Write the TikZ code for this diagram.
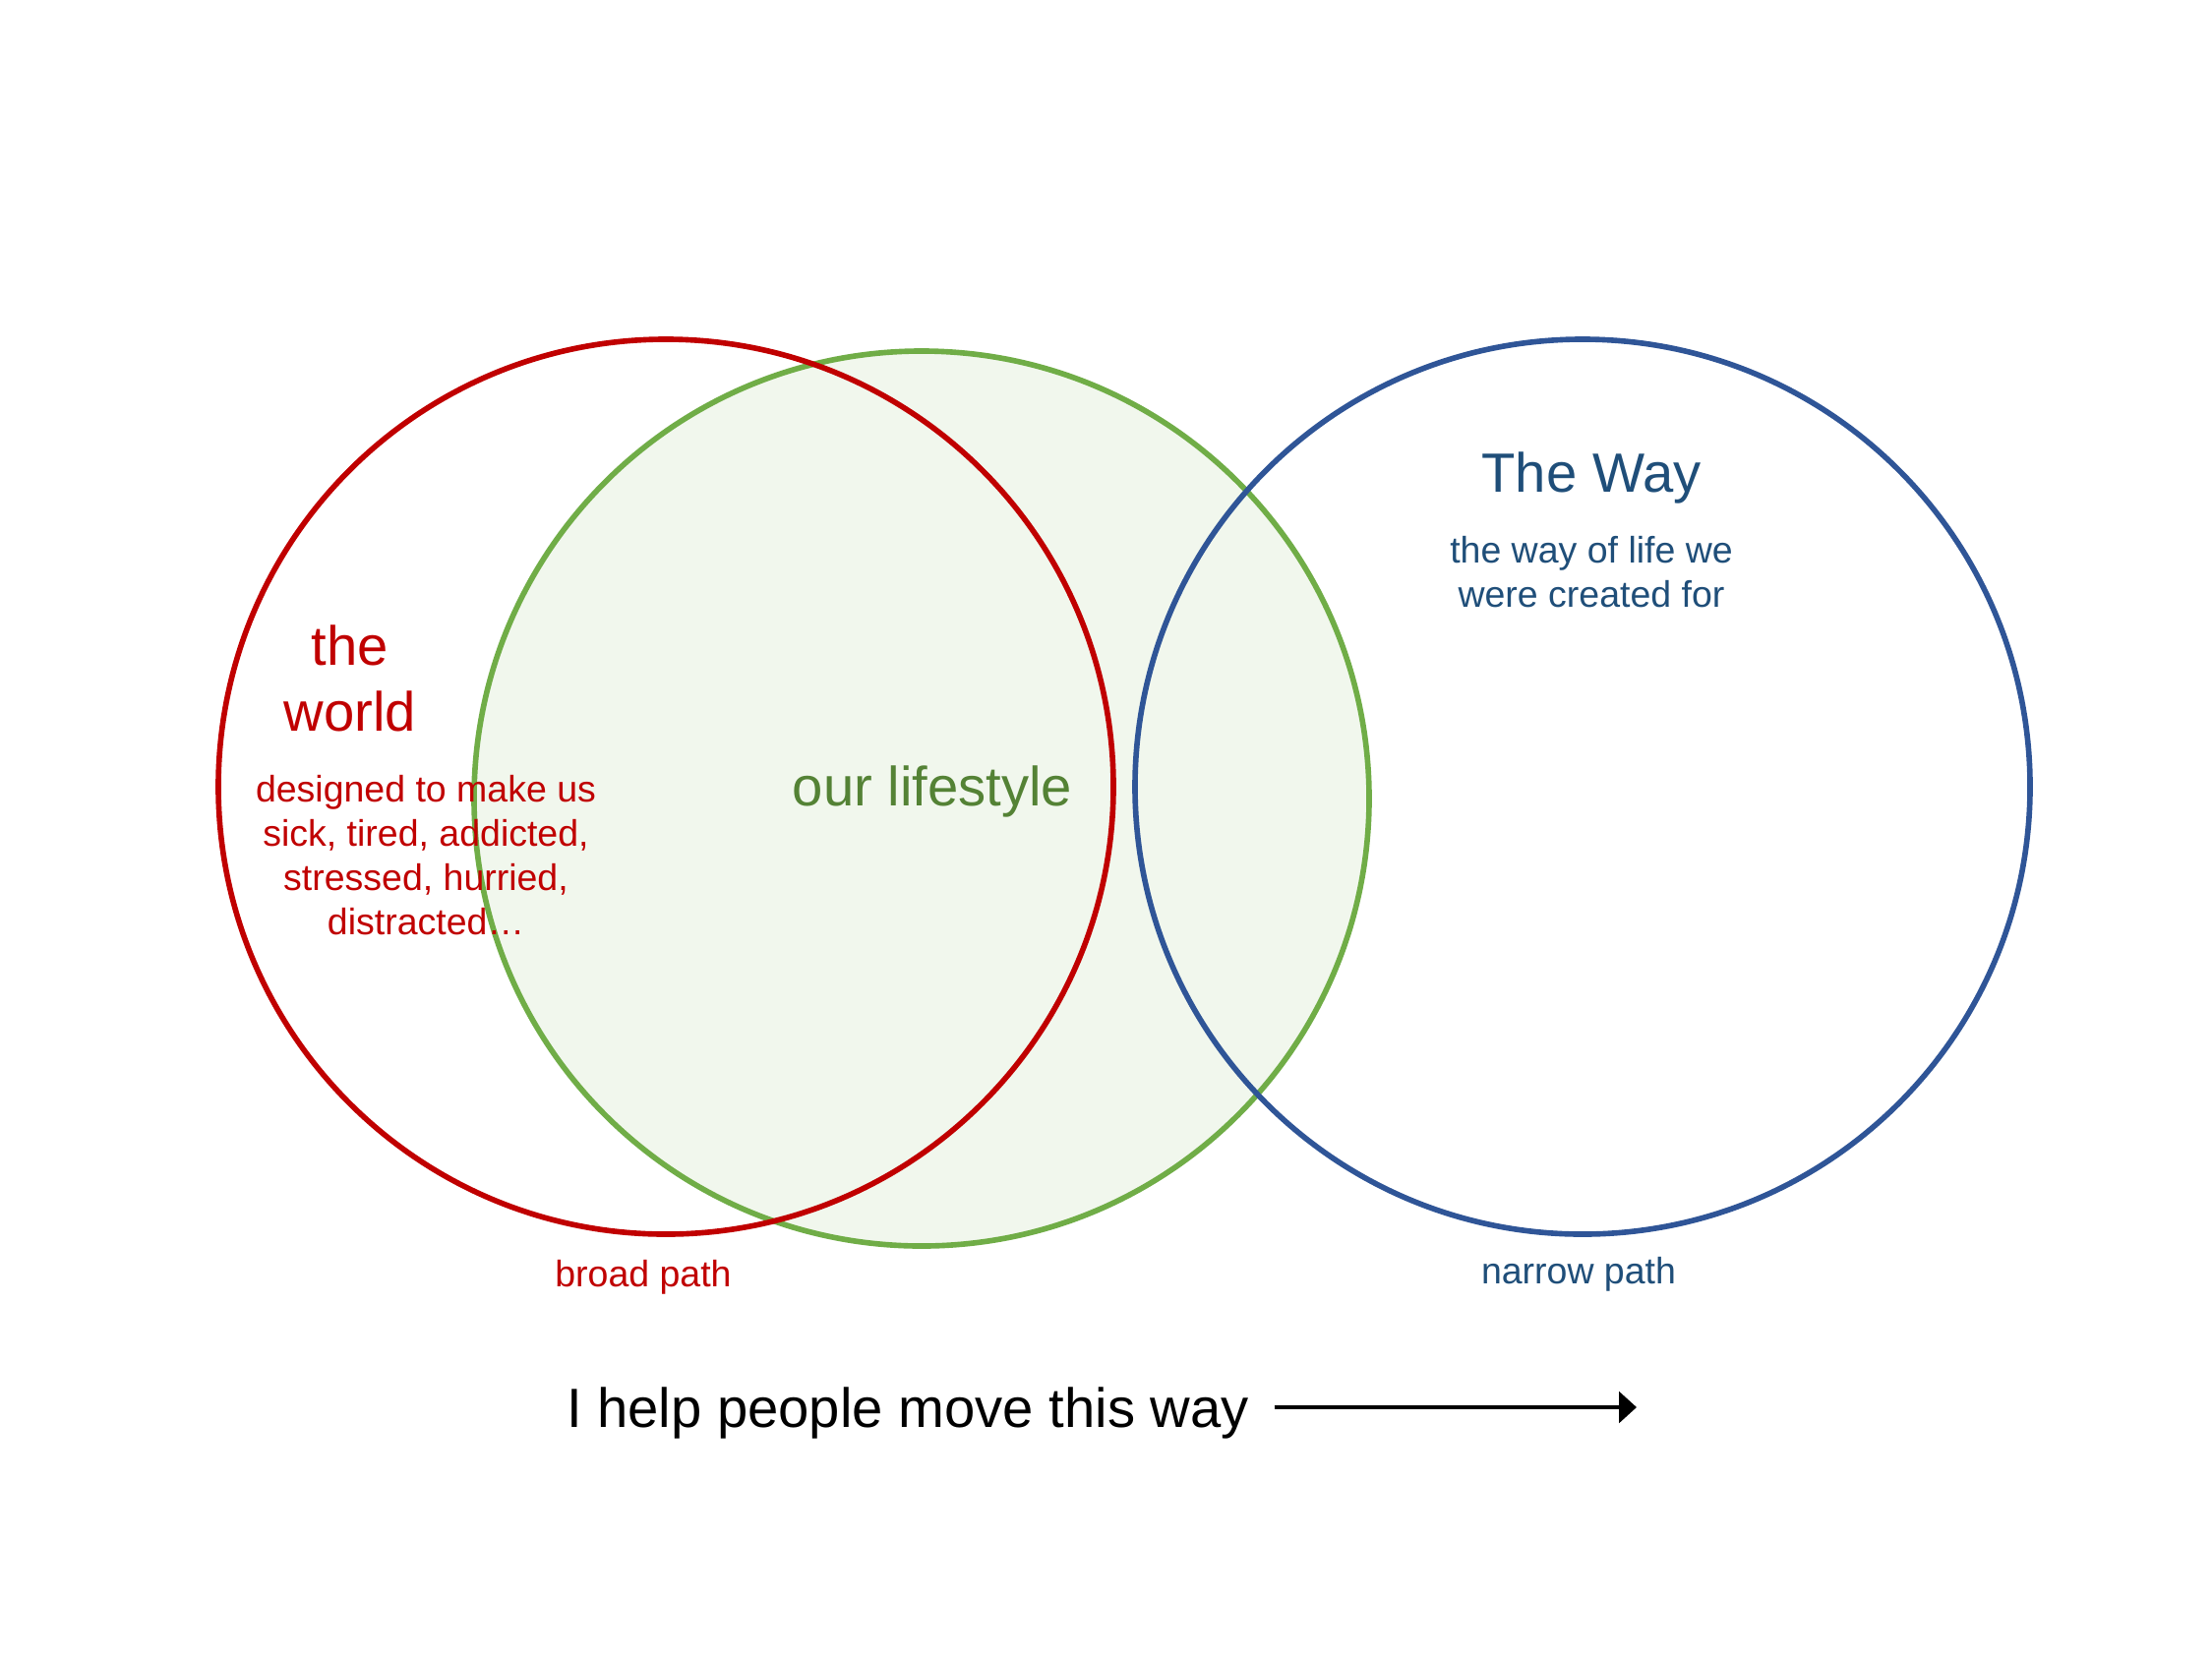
\documentclass[tikz,border=0pt]{standalone}
\usepackage{fontspec}
\setmainfont{Liberation Sans}
\usepackage{xcolor}
\usetikzlibrary{arrows.meta,positioning}
\definecolor{worldred}{HTML}{C00000}
\definecolor{lifegreen}{HTML}{70AD47}
\definecolor{lifetext}{HTML}{548235}
\definecolor{wayblue}{HTML}{2F5597}
\definecolor{waytext}{HTML}{1F4E79}
\tikzset{
  ring/.style={circle, minimum size=291.3pt, inner sep=0pt, line width=1.8pt},
  big/.style={align=center, font=\fontsize{18}{21.5}\selectfont, inner sep=0pt},
  small/.style={align=center, font=\fontsize{12}{14.4}\selectfont, inner sep=0pt},
  tr/.style={-{Triangle[length=5.7pt, width=10pt]}, line width=1.3pt, draw=black},
}

\begin{document}
\begin{tikzpicture}[x=0.3201pt, y=-0.3201pt, node distance=4mm]
  \useasboundingbox (0,0) rectangle (2249,1687);
  % the three circles
  \node[ring, draw=lifegreen, fill=lifegreen!10] (life) at (937,812) {};
  \node[ring, draw=worldred] (world) at (677,800) {};
  \node[ring, draw=wayblue] (way) at (1609,800) {};
  % the world
  \node[big, text=worldred] (worldtitle) at (356,690) {the\\world};
  \node[small, text=worldred] (worlddesc) at (433,870)
    {designed to make us\\sick, tired, addicted,\\stressed, hurried,\\distracted\dots};
  \node[small, text=worldred] (broad) at (654,1299) {broad path};
  % our lifestyle
  \node[big, text=lifetext] (lifetitle) at (948,805) {our lifestyle};
  % the way
  \node[big, text=waytext] (waytitle) at (1618,486) {The Way};
  \node[small, text=waytext, below=3.6mm of waytitle] (waydesc)
    {the way of life we\\were created for};
  \node[small, text=waytext] (narrow) at (1605,1296) {narrow path};
  % direction
  \node[big, inner xsep=8pt] (help) at (923,1437) {I help people move this way};
  \coordinate (tip) at (1664,1431);
  \draw[tr] (help.east |- tip) -- (tip);
\end{tikzpicture}
\end{document}
